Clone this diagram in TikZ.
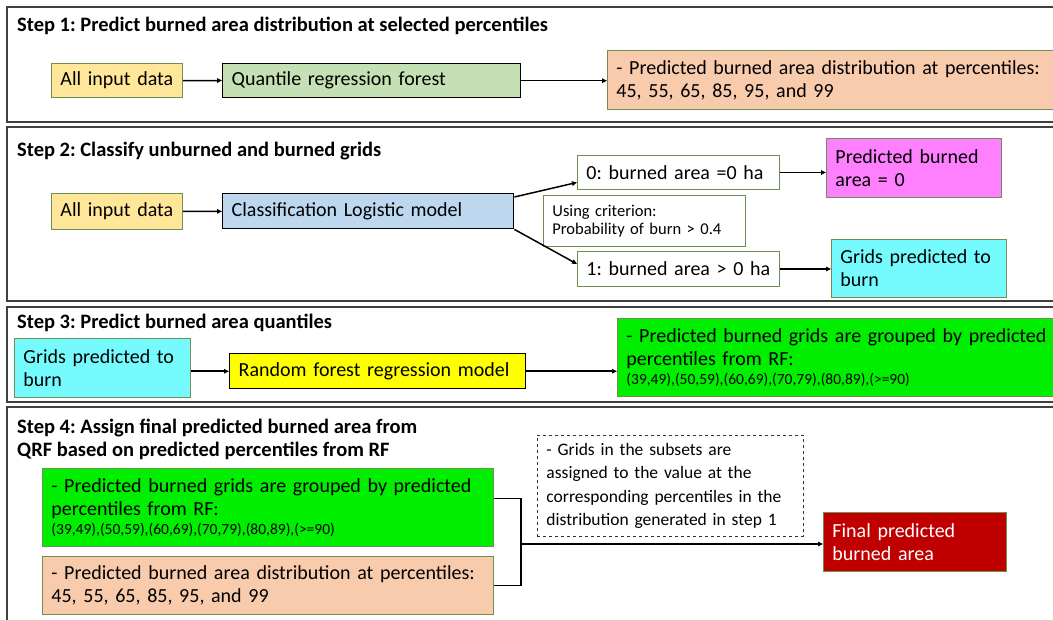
\documentclass[tikz,border=0pt]{standalone}
\usepackage{fontspec}
\setmainfont{Carlito}
\usetikzlibrary{arrows.meta}
\definecolor{inyellow}{HTML}{FFE699}
\definecolor{qrfgreen}{HTML}{C5E0B4}
\definecolor{distorange}{HTML}{F8CBAD}
\definecolor{logblue}{HTML}{BDD7EE}
\definecolor{nopink}{HTML}{FF80FF}
\definecolor{burncyan}{HTML}{75FBFD}
\definecolor{rfyellow}{HTML}{FFFF00}
\definecolor{groupgreen}{HTML}{00EE00}
\definecolor{finalred}{HTML}{C00000}
\definecolor{boxedge}{HTML}{6F8F50}
\frenchspacing
\begin{document}
\begin{tikzpicture}[x=1pt, y=-1pt,
    stepframe/.style={draw=black!75, line width=1.3pt},
    steptitle/.style={anchor=base west, inner sep=0pt, font=\fontsize{20.5}{24}\selectfont\bfseries},
    box/.style={anchor=north west, draw=boxedge, line width=0.9pt, inner xsep=9pt, inner ysep=0pt, align=left, font=\fontsize{20}{23}\selectfont},
    modelbox/.style={box, draw=black, line width=1.4pt},
    flow/.style={-{Triangle[length=5pt, width=4.5pt]}, line width=1.5pt}]
    \useasboundingbox (0,0) rectangle (1053,619);
    % step 1
    \draw[stepframe] (7,7) rectangle (1065,122);
    \node[steptitle] (t1) at (17,31) {Step 1: Predict burned area distribution at selected percentiles};
    \node[box, fill=inyellow, text width=113pt, minimum height=34pt] (in1) at (51,63) {All input data};
    \node[modelbox, fill=qrfgreen, text width=280pt, minimum height=34pt] (qrf) at (222,63) {Quantile regression forest};
    \node[box, fill=distorange, text width=440pt, minimum height=59pt] (dist1) at (607,50) {- Predicted burned area distribution at percentiles:\\45, 55, 65, 85, 95, and 99};
    \draw[flow] (in1) -- (qrf);
    \draw[flow] (qrf.east) -- (qrf.east -| dist1.west);
    % step 2
    \draw[stepframe] (7,127) rectangle (1065,301);
    \node[steptitle] (t2) at (17,156) {Step 2: Classify unburned and burned grids};
    \node[box, fill=inyellow, text width=113pt, minimum height=36pt] (in2) at (51,193) {All input data};
    \node[modelbox, fill=logblue, text width=273pt, minimum height=35pt] (logit) at (222,193) {Classification Logistic model};
    \node[box, text width=184pt, minimum height=34pt] (zero) at (577,155) {0: burned area =0 ha};
    \node[box, font=\fontsize{16.5}{18}\selectfont, text width=184pt, minimum height=51pt] (crit) at (543,195) {Using criterion:\\Probability of burn > 0.4};
    \node[box, text width=184pt, minimum height=35pt] (one) at (577,251) {1: burned area > 0 ha};
    \node[box, fill=nopink, text width=157pt, minimum height=59pt] (noburn) at (826,138) {Predicted burned\\area = 0};
    \node[box, fill=burncyan, text width=157pt, minimum height=58pt] (burn2) at (831,239) {Grids predicted to\\burn};
    \draw[flow] (in2) -- (logit);
    \draw[flow] ([yshift=-4pt]logit.north east) -- ([yshift=-10pt]zero.west);
    \draw[flow] (logit.south east) -- ([yshift=5pt]one.west);
    \draw[flow] (zero.east) -- (zero.east -| noburn.west);
    \draw[flow] (one.east) -- (one.east -| burn2.west);
    % step 3
    \draw[stepframe] (7,307) rectangle (1065,402);
    \node[steptitle] (t3) at (17,328) {Step 3: Predict burned area quantiles};
    \node[box, fill=burncyan, text width=158pt, minimum height=59pt] (burn3) at (14,338) {Grids predicted to\\burn};
    \node[modelbox, fill=rfyellow, text width=278pt, minimum height=35pt] (rf) at (229,353) {Random forest regression model};
    \node[box, fill=groupgreen, text width=440pt, minimum height=78pt] (group3) at (617,318) {- Predicted burned grids are grouped by predicted\\percentiles from RF:\\[-4pt]{\fontsize{15.5}{17}\selectfont(39,49),(50,59),(60,69),(70,79),(80,89),(>=90)}};
    \draw[flow] (burn3.east |- rf.west) -- (rf.west);
    \draw[flow] (rf.east) -- (rf.east -| group3.west);
    % step 4
    \draw[stepframe] (7,407) rectangle (1065,640);
    \node[steptitle] (t4) at (17,433) {Step 4: Assign final predicted burned area from};
    \node[steptitle] (t4b) at (17,456) {QRF based on predicted percentiles from RF};
    \node[box, fill=groupgreen, text width=433pt, minimum height=78pt] (group4) at (42,468) {- Predicted burned grids are grouped by predicted\\percentiles from RF:\\[-4pt]{\fontsize{15.5}{17}\selectfont(39,49),(50,59),(60,69),(70,79),(80,89),(>=90)}};
    \node[box, fill=distorange, text width=433pt, minimum height=58pt] (dist4) at (42,556) {- Predicted burned area distribution at percentiles:\\45, 55, 65, 85, 95, and 99};
    \node[box, draw=black!80, dashed, font=\fontsize{17.5}{23.5}\selectfont, text width=248pt, minimum height=101pt] (assign) at (537,435) {- Grids in the subsets are\\assigned to the value at the\\corresponding percentiles in the\\distribution generated in step 1};
    \node[box, fill=finalred, text=white, text width=165pt, minimum height=59pt] (final) at (823,512) {Final predicted\\burned area};
    \coordinate (join) at (521,544);
    \draw[line width=1.3pt] ([yshift=9pt]group4.east) -| (join) |- (dist4.east);
    \draw[flow] (join) -- (join -| final.west);
\end{tikzpicture}
\end{document}
